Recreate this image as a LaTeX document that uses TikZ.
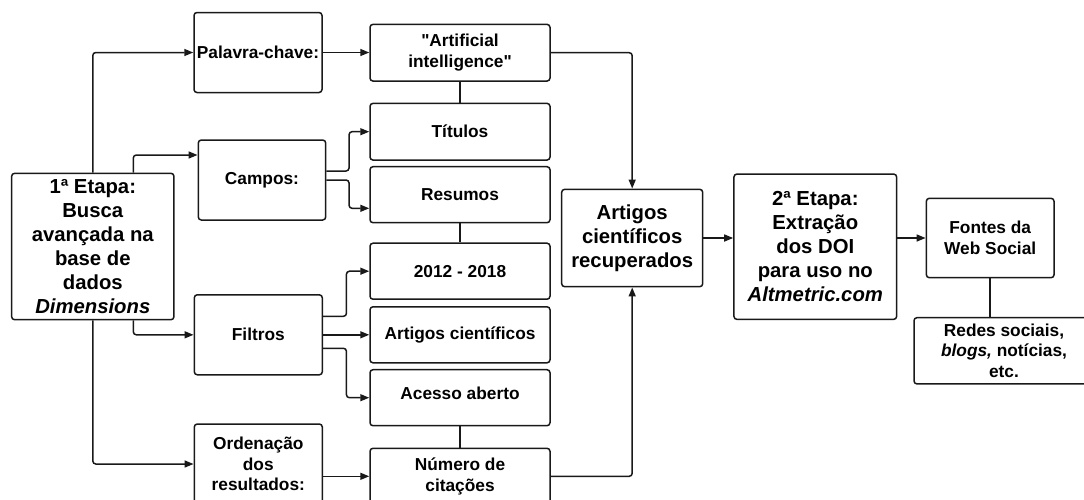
\documentclass[tikz,border=0pt]{standalone}
\usepackage{fontspec}
\setmainfont{Liberation Sans}[Ligatures=TeXOff]
\usetikzlibrary{arrows.meta,calc}
\newcommand\txtS{\fontsize{17.3}{20.6}\selectfont\bfseries}
\newcommand\txtL{\fontsize{20.3}{23.9}\selectfont\bfseries}
\tikzset{
  box/.style={draw=black!90, rounded corners=3pt, line width=1.5pt, align=center, inner sep=0pt, font=\txtS, text=black},
  bigbox/.style={box, font=\txtL},
  arr/.style={draw=black!90, line width=1.5pt, rounded corners=3pt, -{Triangle[length=9pt,width=7pt]}},
  ln/.style={draw=black!90, line width=1.5pt}
}
\begin{document}
\begin{tikzpicture}[x=1pt,y=-1pt]
\useasboundingbox (0,0) rectangle (1084,499);
\clip (0,0) rectangle (1084,499);
% left column
\node[bigbox, minimum width=162.3pt, minimum height=146.4pt] (etapa1) at (92.8,246.5)
  {1ª Etapa:\\Busca\\avançada na\\base de\\dados\\\textit{Dimensions}};
\node[box, minimum width=128pt, minimum height=80pt] (palavra) at (258,52.5) {Palavra-chave:};
\node[box, minimum width=127.4pt, minimum height=80pt] (campos) at (262,180) {Campos:};
\node[box, minimum width=128pt, minimum height=80pt] (filtros) at (258.3,334.8) {Filtros};
\node[box, minimum width=128pt, minimum height=80pt] (ordem) at (258.3,464) {Ordenação\\dos\\resultados:};
% middle column
\node[box, minimum width=180pt, minimum height=56.7pt] (artificial) at (460,52.7) {"Artificial\\intelligence"};
\node[box, minimum width=180pt, minimum height=56.7pt] (titulos) at (460,131.7) {Títulos};
\node[box, minimum width=180pt, minimum height=56pt] (resumos) at (460,194.7) {Resumos};
\node[box, minimum width=180pt, minimum height=56pt] (y2012) at (460,271.2) {2012 - 2018};
\node[box, minimum width=180pt, minimum height=56pt] (artigos) at (460,334.8) {Artigos científicos};
\node[box, minimum width=180pt, minimum height=56pt] (acesso) at (460,397.7) {\raisebox{4pt}[\height][\depth]{Acesso aberto}};
\node[box, minimum width=180pt, minimum height=56pt] (numero) at (460,476.3) {Número de\\citações};
% right part
\node[bigbox, minimum width=141pt, minimum height=97.4pt] (recup) at (632.2,238) {Artigos\\científicos\\recuperados};
\node[bigbox, minimum width=162.7pt, minimum height=145.3pt] (etapa2) at (815.3,246.7)
  {2ª Etapa:\\Extração\\dos DOI\\para uso no\\\textit{Altmetric.com}};
\node[box, minimum width=127.7pt, minimum height=79.4pt] (fontes) at (990.2,238) {Fontes da\\Web Social};
\node[box, minimum width=180pt, minimum height=66.3pt] (redes) at (1004,350.8) {Redes sociais,\\\textit{blogs,} notícias,\\etc.};
% connectors from 1a Etapa
\draw[arr] (etapa1.north) |- (palavra.west);
\draw[arr] ([xshift=40.5pt]etapa1.north) |- ([yshift=25pt]campos.west);
\draw[arr] ([xshift=40.5pt]etapa1.south) |- (filtros.west);
\draw[arr] (etapa1.south) |- (ordem.west);
% second level
\draw[arr] (palavra.east) -- (palavra.east -| artificial.west);
\draw[arr] ([yshift=9pt]campos.east) -- ++(22.6,0) |- (titulos.west);
\draw[arr] (campos.east) -- ++(22.6,0) |- ([yshift=-13.6pt]resumos.west);
\draw[arr] ([yshift=18.5pt]filtros.east) -- ++(23.4,0) |- (y2012.west);
\draw[arr] (filtros.east) -- (filtros.east -| artigos.west);
\draw[arr] ([yshift=-13.5pt]filtros.east) -- ++(23.4,0) |- (acesso.west);
\draw[arr] (numero.west -| ordem.east) -- (numero.west);
% plain links in middle column
\draw[ln] (artificial.south) -- (titulos.north);
\draw[ln] (resumos.south) -- (y2012.north);
\draw[ln] (acesso.south) -- (numero.north);
% to recuperados
\draw[arr] (artificial.east) -| (recup.north);
\draw[arr] (numero.east) -| (recup.south);
\draw[arr] (recup.east) -- (recup.east -| etapa2.west);
\draw[arr] (fontes.west -| etapa2.east) -- (fontes.west);
\draw[ln] (fontes.south) -- (fontes.south |- redes.north);
\end{tikzpicture}
\end{document}
